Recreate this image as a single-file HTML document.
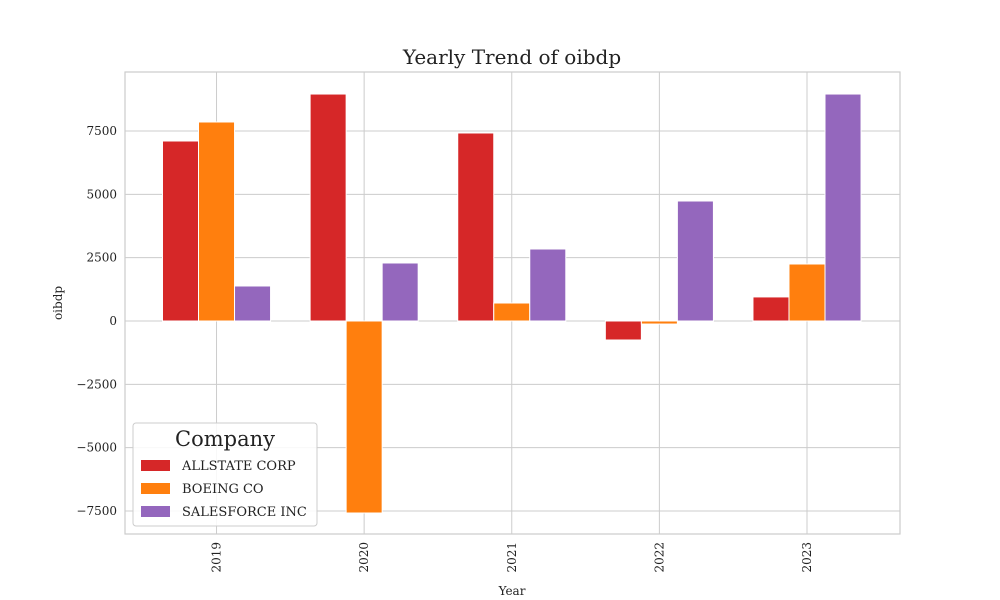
<!DOCTYPE html>
<html><head><meta charset="utf-8"><style>body{margin:0;background:#fff}svg{display:block;font-family:"DejaVu Serif","Liberation Serif",serif}</style></head>
<body>
<svg id="c" width="1000" height="600"></svg>
<script>
const years=["2019","2020","2021","2022","2023"];
const companies=["ALLSTATE CORP","BOEING CO","SALESFORCE INC"];
const allstate=[7106,8960,7422,-750,950];
const boeing=[7856,-7580,710,-120,2250];
const salesforce=[1382,2290,2842,4737,8960];
const yTicks=[-7500,-5000,-2500,0,2500,5000,7500];
const colors=["#d62728","#ff7f0e","#9467bd"];
const series=[allstate,boeing,salesforce];
const L=125,R=900,T=72,B=534,ymin=-8409,ymax=9830,xmin=-0.62,xmax=4.63;
const X=v=>L+(v-xmin)/(xmax-xmin)*(R-L);
const Y=v=>T+(ymax-v)/(ymax-ymin)*(B-T);
const svg=document.getElementById('c');const NS="http://www.w3.org/2000/svg";
function mk(t,a,txt){const e=document.createElementNS(NS,t);for(const k in a)e.setAttribute(k,a[k]);if(txt!==undefined)e.textContent=txt;svg.appendChild(e);return e;}
let e;
e=mk('rect',{x:L,y:T,width:R-L,height:B-T,fill:'#fff',stroke:'#ccc','stroke-width':1.2});

yTicks.forEach(t=>{const y=Y(t);
e=mk('line',{x1:L,x2:R,y1:y,y2:y,stroke:'#ccc','stroke-width':1});

e=mk('text',{x:L-8,y:y+4,'text-anchor':'end','font-size':12,fill:'#222'},t<0?'\u2212'+(-t):String(t));
});
years.forEach((yr,i)=>{const x=X(i);
e=mk('line',{x1:x,x2:x,y1:T,y2:B,stroke:'#ccc','stroke-width':1});

e=mk('text',{x:0,y:0,'text-anchor':'end','font-size':12,fill:'#222',transform:`translate(${x+4},${B+8}) rotate(-90)`},yr);
});
const bw=(X(1)-X(0))*0.244;
series.forEach((s,j)=>s.forEach((v,i)=>{const cx=X(i)+(j-1)*bw;const y0=Y(0),y1=Y(v);
e=mk('rect',{x:cx-bw/2,y:Math.min(y0,y1),width:bw,height:Math.abs(y1-y0),fill:colors[j],stroke:'#fff','stroke-width':1});
}));
e=mk('text',{x:512,y:64,'text-anchor':'middle','font-size':20,fill:'#222'},'Yearly Trend of oibdp');

e=mk('text',{x:512,y:595,'text-anchor':'middle','font-size':12,fill:'#222'},'Year');

e=mk('text',{x:0,y:0,'text-anchor':'middle','font-size':12,fill:'#222',transform:'translate(62,303) rotate(-90)'},'oibdp');

e=mk('rect',{x:133,y:423,width:184,height:103,rx:3,fill:'#fff','fill-opacity':0.85,stroke:'#ccc'});

e=mk('text',{x:225,y:446,'text-anchor':'middle','font-size':21,fill:'#222'},'Company');

companies.forEach((c,j)=>{const y=466+j*23;
e=mk('rect',{x:141,y:y-6,width:29,height:11,fill:colors[j]});

e=mk('text',{x:182,y:y+4,'font-size':13,fill:'#222'},c);
});
</script>
</body></html>
